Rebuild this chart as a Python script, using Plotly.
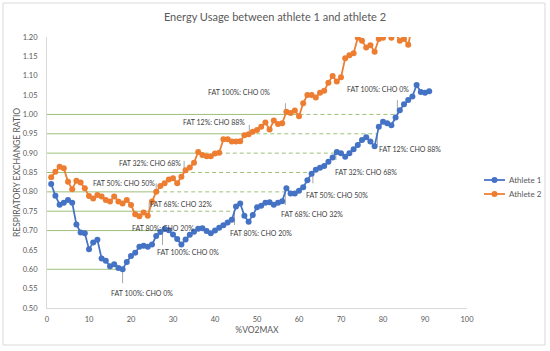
import plotly.graph_objects as go

# ---------------- data ----------------
athlete1_x = list(range(1, 92))
athlete1_rer = [
    0.820, 0.790, 0.767, 0.772, 0.779, 0.772, 0.716, 0.695, 0.693, 0.652,
    0.669, 0.676, 0.628, 0.622, 0.608, 0.613, 0.603, 0.600, 0.619, 0.634,
    0.643, 0.658, 0.661, 0.658, 0.664, 0.686, 0.696, 0.704, 0.701, 0.690,
    0.678, 0.664, 0.677, 0.689, 0.697, 0.705, 0.706, 0.699, 0.693, 0.700,
    0.707, 0.714, 0.721, 0.728, 0.762, 0.770, 0.738, 0.723, 0.740, 0.760,
    0.764, 0.772, 0.773, 0.767, 0.772, 0.776, 0.809, 0.796, 0.796, 0.803,
    0.812, 0.830, 0.847, 0.857, 0.862, 0.867, 0.878, 0.889, 0.903, 0.900,
    0.891, 0.900, 0.910, 0.921, 0.934, 0.941, 0.930, 0.918, 0.968, 0.981,
    0.977, 0.972, 0.992, 1.011, 1.026, 1.037, 1.046, 1.076, 1.058, 1.056,
    1.060,
]

athlete2_x = list(range(1, 88))
athlete2_rer = [
    0.838, 0.852, 0.865, 0.861, 0.826, 0.807, 0.829, 0.824, 0.809, 0.789,
    0.783, 0.792, 0.788, 0.779, 0.775, 0.788, 0.775, 0.770, 0.779, 0.766,
    0.742, 0.737, 0.747, 0.738, 0.775, 0.800, 0.815, 0.822, 0.832, 0.835,
    0.822, 0.839, 0.856, 0.863, 0.875, 0.903, 0.895, 0.892, 0.892, 0.899,
    0.901, 0.936, 0.936, 0.930, 0.930, 0.931, 0.946, 0.949, 0.955, 0.960,
    0.968, 0.979, 0.961, 0.984, 0.975, 0.977, 1.007, 1.004, 1.010, 0.995,
    1.029, 1.050, 1.050, 1.044, 1.056, 1.061, 1.082, 1.099, 1.085, 1.096,
    1.145, 1.153, 1.158, 1.198, 1.190, 1.173, 1.179, 1.162, 1.195, 1.198,
    1.210, 1.198, 1.210, 1.190, 1.195, 1.180, 1.230,
]

series_names = ["Athlete 1", "Athlete 2"]

# RER reference levels
levels = [0.60, 0.70, 0.75, 0.80, 0.85, 0.90, 0.95, 1.00]

# data labels: (level, text, label x, label y, leader end)
orange_labels = [
    (0.75, "FAT 68%: CHO 32%", 31.9, 0.769, 0.772),
    (0.80, "FAT 50%: CHO 50%", 18.3, 0.823, 0.822),
    (0.85, "FAT 32%: CHO 68%", 24.5, 0.874, 0.880),
    (0.95, "FAT 12%: CHO 88%", 39.8, 0.980, 0.973),
    (1.00, "FAT 100%: CHO 0%", 45.7, 1.058, 1.029),
]
blue_labels = [
    (0.60, "FAT 100%: CHO 0%", 22.6, 0.539, 0.564),
    (0.70, "FAT 100%: CHO 0%", 33.6, 0.645, 0.663),
    (0.75, "FAT 80%: CHO 20%", 51.0, 0.694, 0.714),
    (0.80, "FAT 68%: CHO 32%", 63.1, 0.743, 0.766),
    (0.85, "FAT 50%: CHO 50%", 69.0, 0.792, 0.822),
    (0.90, "FAT 32%: CHO 68%", 76.0, 0.851, 0.882),
    (0.95, "FAT 12%: CHO 88%", 86.4, 0.911, 0.921),
    (1.00, "FAT 100%: CHO 0%", 78.8, 1.066, 1.037),
]
extra_labels = [("FAT 80%: CHO 20%", 27.6, 0.707)]

BLUE = "#4472C4"
ORANGE = "#ED7D31"
GREEN = "#9DC07B"
GREY = "#A6A6A6"
TXT = "#404040"
AX = "#595959"
FONT = "Lato"

W, H = 550, 351
ML, MR, MT, MB = 47, 83, 37, 43
PW, PH = W - ML - MR, H - MT - MB


def px_x(px):
    return (px - ML) / PW


def px_y(py):
    return (H - MB - py) / PH


def crossing(xs, ys, level):
    """first x after the series minimum where the series reaches the level"""
    imin = ys.index(min(ys))
    for i in range(imin, len(ys)):
        if ys[i] >= level:
            if i == imin:
                return xs[i]
            x0, x1, y0, y1 = xs[i - 1], xs[i], ys[i - 1], ys[i]
            return x0 + (level - y0) * (x1 - x0) / (y1 - y0)
    return None


fig = go.Figure()

fig.add_trace(go.Scatter(
    x=athlete1_x, y=athlete1_rer, mode="lines+markers", name=series_names[0],
    line=dict(color=BLUE, width=1.75), marker=dict(color=BLUE, size=6),
))
fig.add_trace(go.Scatter(
    x=athlete2_x, y=athlete2_rer, mode="lines+markers", name=series_names[1],
    line=dict(color=ORANGE, width=1.75), marker=dict(color=ORANGE, size=6),
))

shapes = []
omin = min(athlete2_rer)
for lv in levels:
    xb = crossing(athlete1_x, athlete1_rer, lv)
    if lv < omin:
        shapes.append(dict(type="line", xref="x", yref="y", x0=0, x1=xb, y0=lv, y1=lv,
                           line=dict(color=GREEN, width=1), layer="below"))
    else:
        xo = crossing(athlete2_x, athlete2_rer, lv)
        shapes.append(dict(type="line", xref="x", yref="y", x0=0, x1=xo, y0=lv, y1=lv,
                           line=dict(color=GREEN, width=1), layer="below"))
        shapes.append(dict(type="line", xref="x", yref="y", x0=xo, x1=xb, y0=lv, y1=lv,
                           line=dict(color=GREEN, width=1, dash="4px,3px"), layer="below"))

annotations = []
for xs, ys, labels in [(athlete2_x, athlete2_rer, orange_labels),
                       (athlete1_x, athlete1_rer, blue_labels)]:
    for lv, text, lx, ly, lend in labels:
        xc = crossing(xs, ys, lv)
        shapes.append(dict(type="line", xref="x", yref="y", x0=xc, x1=xc, y0=lv, y1=lend,
                           line=dict(color=GREY, width=1), layer="below"))
        annotations.append(dict(x=lx, y=ly, xref="x", yref="y", text=text, showarrow=False,
                                font=dict(family=FONT, size=7, color=TXT)))
for text, lx, ly in extra_labels:
    annotations.append(dict(x=lx, y=ly, xref="x", yref="y", text=text, showarrow=False,
                            font=dict(family=FONT, size=7, color=TXT)))

# legend (drawn by hand so it sits exactly where the original one does)
for name, color, py in [(series_names[0], BLUE, 180), (series_names[1], ORANGE, 194)]:
    shapes.append(dict(type="line", xref="paper", yref="paper",
                       x0=px_x(484), x1=px_x(505), y0=px_y(py), y1=px_y(py),
                       line=dict(color=color, width=1.75)))
    shapes.append(dict(type="circle", xref="paper", yref="paper",
                       x0=px_x(491.5), x1=px_x(497.5), y0=px_y(py + 3), y1=px_y(py - 3),
                       fillcolor=color, line=dict(color=color, width=0)))
    annotations.append(dict(x=px_x(507), y=px_y(py), xref="paper", yref="paper",
                            xanchor="left", yanchor="middle", text=name, showarrow=False,
                            font=dict(family=FONT, size=8, color=AX)))

# chart frame
shapes.append(dict(type="rect", xref="paper", yref="paper",
                   x0=px_x(3), x1=px_x(545), y0=px_y(345), y1=px_y(3),
                   line=dict(color="#D9D9D9", width=1), layer="below"))

fig.update_layout(
    width=W, height=H,
    margin=dict(l=ML, r=MR, t=MT, b=MB),
    paper_bgcolor="white", plot_bgcolor="white",
    font=dict(family=FONT, color=AX),
    showlegend=False,
    title=dict(text="Energy Usage between athlete 1 and athlete 2",
               x=(ML + PW * 0.5 + 18) / W, xanchor="center",
               y=1 - 17 / H, yanchor="middle",
               font=dict(family=FONT, size=11, color=AX)),
    xaxis=dict(range=[0, 100], dtick=10, showgrid=False, zeroline=False,
               showline=True, linecolor="#D9D9D9", linewidth=1, ticks="",
               tickfont=dict(family=FONT, size=7.5, color=AX), ticklabelstandoff=4,
               title=dict(text="%VO2MAX", font=dict(family=FONT, size=8.5, color=AX),
                          standoff=4)),
    yaxis=dict(range=[0.5, 1.2], dtick=0.05, tickformat=".2f", showgrid=False,
               zeroline=False, showline=True, linecolor="#D9D9D9", linewidth=1,
               ticks="", tickfont=dict(family=FONT, size=7.5, color=AX),
               ticklabelstandoff=7,
               title=dict(text="RESPIRATORY EXCHANGE RATIO",
                          font=dict(family=FONT, size=8.5, color=AX), standoff=0)),
    shapes=shapes,
    annotations=annotations,
)

fig.write_html("out.html")
